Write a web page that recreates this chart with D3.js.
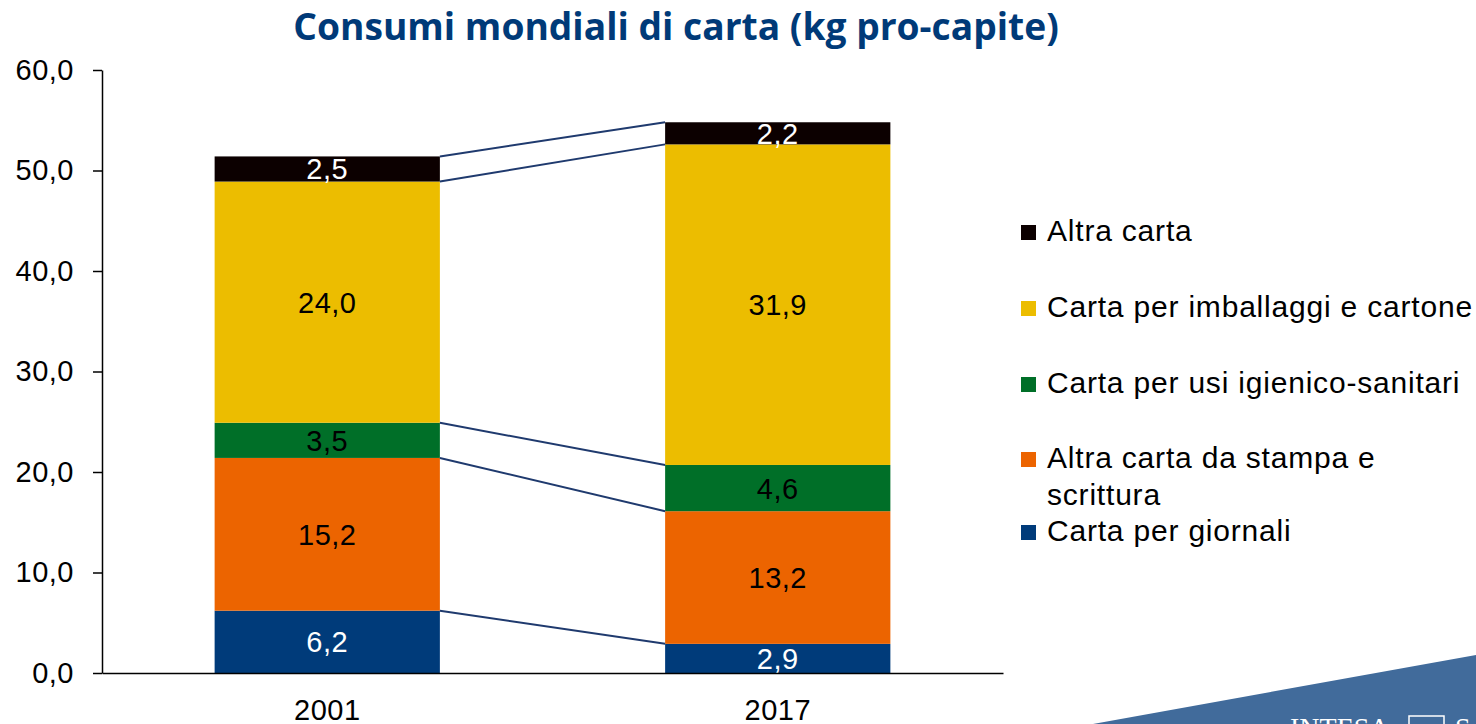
<!DOCTYPE html>
<html>
<head>
<meta charset="utf-8">
<script src="https://cdn.jsdelivr.net/npm/d3@7"></script>
<style>
  html, body { margin: 0; padding: 0; background: #fff; overflow: hidden; }
  svg { display: block; font-family: "Liberation Sans", Arial, sans-serif; }
</style>
</head>
<body>
<div id="app"></div>
<script>
// data
const years = ['2001', '2017'];
const seriesKeys = ['giornali', 'stampa', 'igienico', 'imballaggi', 'altra'];
const giornali = [6.2, 2.9];
const stampa = [15.2, 13.2];
const igienico = [3.5, 4.6];
const imballaggi = [24.0, 31.9];
const altra = [2.5, 2.2];
const seriesColors = ['#003b7a', '#ec6400', '#006f28', '#ecbd00', '#0c0000'];
const labelColors = ['#fff', '#000', '#000', '#000', '#fff'];
const yTicks = [0, 10, 20, 30, 40, 50, 60];

// legend, top to bottom
const legendKeys = ['altra', 'imballaggi', 'igienico', 'stampa', 'giornali'];
const legendLines = [
  ['Altra carta'],
  ['Carta per imballaggi e cartone'],
  ['Carta per usi igienico-sanitari'],
  ['Altra carta da stampa e', 'scrittura'],
  ['Carta per giornali']
];
const legendBaselines = [241, 317, 393, 468, 541];

const titleText = 'Consumi mondiali di carta (kg pro-capite)';

const width = 1476;
const height = 724;
const axisX = 102;
const plotRight = 1003;
const plotTop = 70;
const plotBottom = 673;
const fontSize = 29;

const values = { giornali, stampa, igienico, imballaggi, altra };
const rows = years.map((year, i) => {
  const row = { year };
  seriesKeys.forEach(k => { row[k] = values[k][i]; });
  return row;
});

const svg = d3.select('#app').append('svg')
  .attr('width', width)
  .attr('height', height);

const x = d3.scaleBand()
  .domain(years)
  .range([axisX, plotRight])
  .paddingInner(0.5)
  .paddingOuter(0.25);

const y = d3.scaleLinear()
  .domain([0, 60])
  .range([plotBottom, plotTop]);

const stacked = d3.stack().keys(seriesKeys)(rows);
const color = d3.scaleOrdinal().domain(seriesKeys).range(seriesColors);
const fmt = v => d3.format('.1f')(v).replace('.', ',');

// bars
const layer = svg.append('g')
  .selectAll('g')
  .data(stacked)
  .join('g')
  .attr('fill', d => color(d.key));

layer.selectAll('rect')
  .data(d => d)
  .join('rect')
  .attr('x', d => x(d.data.year))
  .attr('width', x.bandwidth())
  .attr('y', d => y(d[1]))
  .attr('height', d => y(d[0]) - y(d[1]));

// connector lines between the two bars
svg.append('g')
  .selectAll('line')
  .data(stacked)
  .join('line')
  .attr('x1', x(years[0]) + x.bandwidth())
  .attr('x2', x(years[1]))
  .attr('y1', d => y(d[0][1]))
  .attr('y2', d => y(d[1][1]))
  .attr('stroke', '#1f3a6e')
  .attr('stroke-width', 2);

// value labels
svg.append('g')
  .selectAll('g')
  .data(stacked)
  .join('g')
  .attr('fill', (d, i) => labelColors[i])
  .selectAll('text')
  .data(d => d)
  .join('text')
  .attr('x', d => x(d.data.year) + x.bandwidth() / 2)
  .attr('y', d => (y(d[0]) + y(d[1])) / 2)
  .attr('dy', '0.36em')
  .attr('text-anchor', 'middle')
  .style('font-size', fontSize + 'px')
  .style('letter-spacing', '0.5px')
  .text(d => fmt(d[1] - d[0]));

// axes
const yAxis = svg.append('g')
  .attr('transform', `translate(${axisX},0)`)
  .call(d3.axisLeft(y).tickValues(yTicks).tickSize(9).tickSizeOuter(0).tickPadding(19).tickFormat(fmt));

const xAxis = svg.append('g')
  .attr('transform', `translate(0,${plotBottom})`)
  .call(d3.axisBottom(x).tickSize(0).tickPadding(26));

[yAxis, xAxis].forEach(a => {
  a.selectAll('path, line').attr('stroke', '#000').attr('stroke-width', 1.5);
  a.selectAll('text')
    .attr('fill', '#000')
    .style('font-family', '"Liberation Sans", Arial, sans-serif')
    .style('font-size', fontSize + 'px')
    .style('letter-spacing', '0.5px');
});

// title
const title = svg.append('text')
  .attr('x', 676)
  .attr('y', 40)
  .attr('text-anchor', 'middle')
  .attr('fill', '#003a78')
  .style('font-family', '"Open Sans", sans-serif')
  .style('font-weight', 700)
  .style('font-size', '30px')
  .text(titleText);
const tw = title.node().getComputedTextLength();
title.style('font-size', (30 * 765 / tw).toFixed(1) + 'px');

// legend
const legend = svg.append('g')
  .selectAll('g')
  .data(legendKeys)
  .join('g')
  .attr('transform', (d, i) => `translate(1021,${legendBaselines[i]})`);

legend.append('rect')
  .attr('y', -16)
  .attr('width', 15)
  .attr('height', 15)
  .attr('fill', d => color(d));

legend.append('text')
  .style('font-size', '30px')
  .style('letter-spacing', '0.8px')
  .attr('fill', '#000')
  .selectAll('tspan')
  .data((d, i) => legendLines[i])
  .join('tspan')
  .attr('x', 26)
  .attr('y', (d, i) => i * 37)
  .text(d => d);

// corner decoration
const corner = svg.append('g');
corner.append('polygon')
  .attr('points', '1093,724 1476,655 1476,724')
  .attr('fill', '#416b9b');
corner.append('text')
  .attr('x', 1290)
  .attr('y', 737)
  .attr('fill', '#fff')
  .style('font-family', '"Liberation Serif", serif')
  .style('font-size', '28px')
  .text('INTESA');
corner.append('rect')
  .attr('x', 1409)
  .attr('y', 716)
  .attr('width', 35)
  .attr('height', 30)
  .attr('fill', 'none')
  .attr('stroke', '#fff')
  .attr('stroke-width', 1.5);
corner.append('text')
  .attr('x', 1455)
  .attr('y', 737)
  .attr('fill', '#fff')
  .style('font-family', '"Liberation Serif", serif')
  .style('font-size', '28px')
  .text('S');
</script>
</body>
</html>
